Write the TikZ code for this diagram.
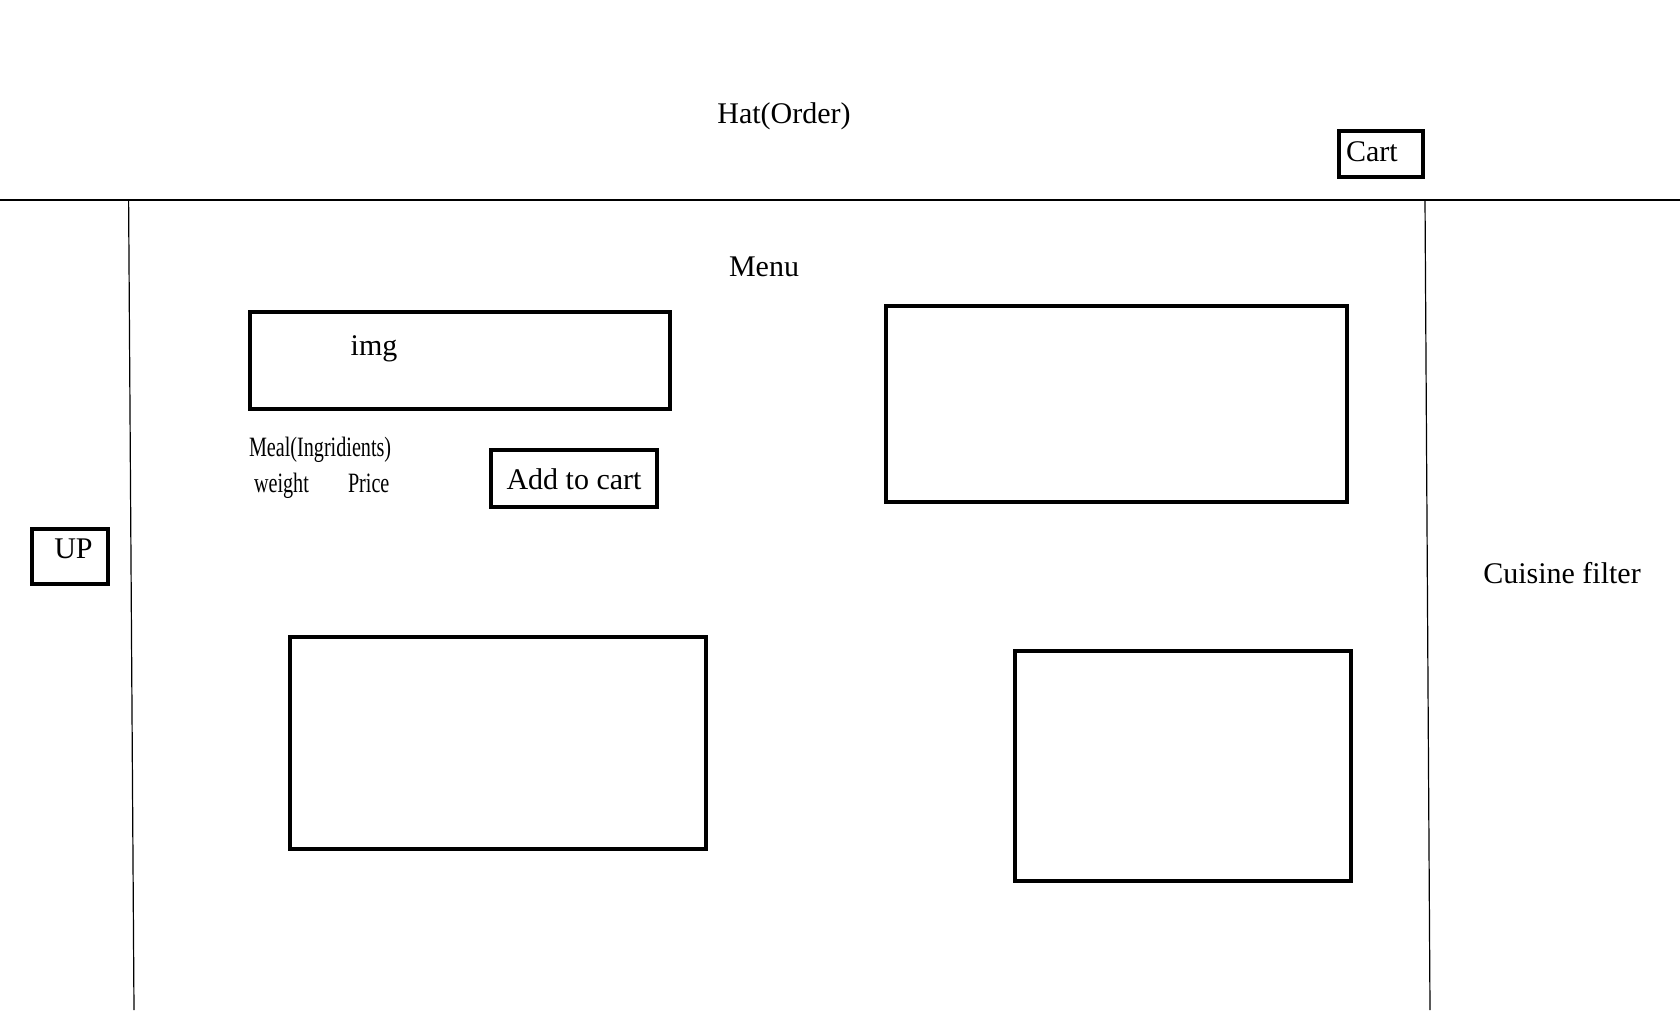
\documentclass[tikz,border=0pt]{standalone}
\usepackage{fontspec}
\setmainfont{Liberation Serif}
\begin{document}
\begin{tikzpicture}[x=1pt,y=-1pt,
  box/.style={draw, line width=3.2pt, inner sep=0pt, outer sep=0pt, anchor=north west},
  thin/.style={line width=1.2pt},
  lbl/.style={inner sep=0pt, outer sep=0pt, font=\fontsize{30}{35}\selectfont},
  cond/.style={inner sep=0pt, outer sep=0pt, font=\fontsize{28}{33}\selectfont}]
\useasboundingbox[fill=white] (0,0) rectangle (1680,1010);
% frame lines
\coordinate (hl) at (0,200);
\coordinate (hr) at (1680,200);
\coordinate (lt) at (128.6,200);
\coordinate (lb) at (134,1010);
\coordinate (rt) at (1425,200);
\coordinate (rb) at (1430,1010);
\draw[thin] (hl) -- (hr);
\draw[thin] (lt) -- (lb);
\draw[thin] (rt) -- (rb);
% header
\node[lbl, anchor=base] (hat) at (784,123) {Hat(Order)};
\node[box, minimum width=84pt, minimum height=46pt] (cartbox) at (1339,131) {};
\node[lbl, anchor=base west] (cart) at (1346,161) {Cart};
% menu
\node[lbl, anchor=base] (menu) at (764,276) {Menu};
\node[box, minimum width=420pt, minimum height=97pt] (imgbox) at (250,312) {};
\node[lbl, anchor=base] (img) at (374,355) {img};
\node[cond, anchor=base west] (meal) at (249,456) {\scalebox{0.72}[1]{Meal(Ingridients)}};
\node[cond, anchor=base west] (weight) at (254,492) {\scalebox{0.72}[1]{weight}};
\node[cond, anchor=base west] (price) at (348,492) {\scalebox{0.72}[1]{Price}};
\node[box, minimum width=166pt, minimum height=57pt] (addbox) at (491,450) {};
\node[lbl, anchor=base] (add) at (574,489) {Add to cart};
\node[box, minimum width=461pt, minimum height=196pt] (card2) at (886,306) {};
\node[box, minimum width=416pt, minimum height=212pt] (card3) at (290,637) {};
\node[box, minimum width=336pt, minimum height=230pt] (card4) at (1015,651) {};
% sides
\node[box, minimum width=76pt, minimum height=55pt] (upbox) at (32,529) {};
\node[lbl, anchor=base] (up) at (73.5,558) {UP};
\node[lbl, anchor=base] (filter) at (1562,583) {Cuisine filter};
\end{tikzpicture}
\end{document}
